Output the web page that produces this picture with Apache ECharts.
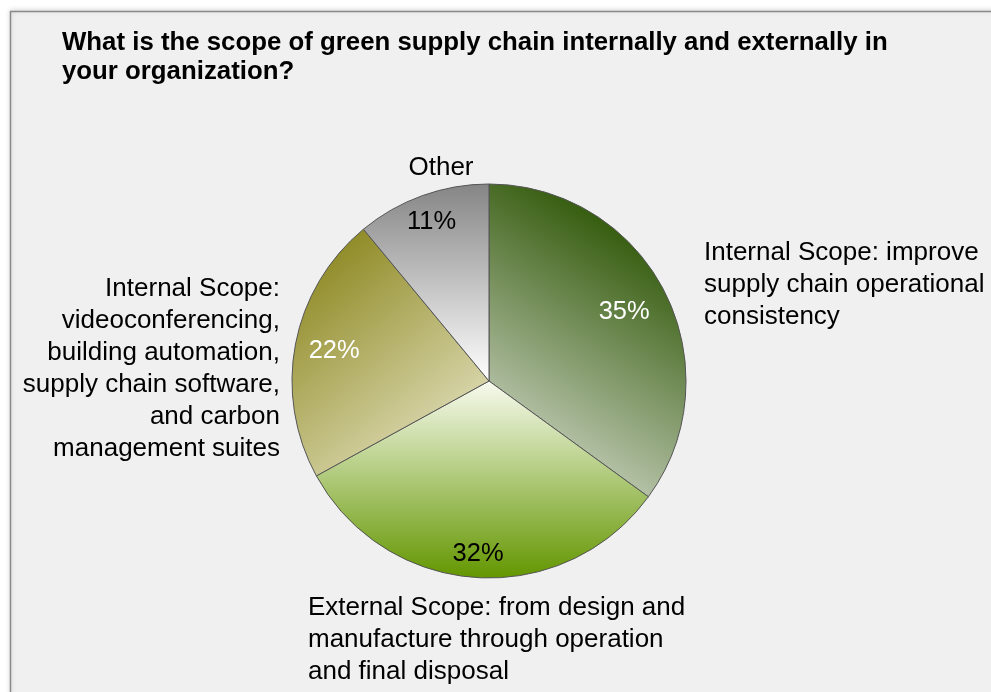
<!DOCTYPE html>
<html>
<head>
<meta charset="utf-8">
<script src="https://cdn.jsdelivr.net/npm/echarts@6/dist/echarts.min.js"></script>
<style>
  html, body { margin: 0; padding: 0; background: #ffffff; }
  #chart { width: 991px; height: 692px; }
</style>
</head>
<body>
<div id="chart"></div>
<script>
// Survey answers: scope of green supply chain
const categories = [
  'Internal Scope: improve\nsupply chain operational\nconsistency',
  'External Scope: from design and\nmanufacture through operation\nand final disposal',
  'Internal Scope:\nvideoconferencing,\nbuilding automation,\nsupply chain software,\nand carbon\nmanagement suites',
  'Other'
];
const shares = [35, 32, 22, 11];
const pctLabelColors = ['#ffffff', '#000000', '#ffffff', '#000000'];

const titleText = 'What is the scope of green supply chain internally and externally in\nyour organization?';

const CX = 489, CY = 381, R = 197;
const FONT = 'Liberation Sans, Arial, Helvetica, sans-serif';

// slice fills (linear gradients across each sector's bounding box)
const grad = (x, y, x2, y2, stops) =>
  new echarts.graphic.LinearGradient(x, y, x2, y2,
    stops.map(([offset, color]) => ({ offset, color })));
const sliceFills = [
  grad(0, 1, 1, 0, [[0, '#e6e9e2'], [0.85, '#2b5402'], [1, '#264d00']]),
  grad(0, 0, 0, 1, [[0, '#f8fbef'], [1, '#639600']]),
  grad(0, 0, 1, 1, [[0, '#817c0c'], [1, '#f0eed6']]),
  grad(0, 0, 0, 1, [[0, '#858585'], [1, '#ffffff']])
];

// radial position of each percent label, as a fraction of the radius
const pctRadius = [0.77, 0.88, 0.80, 0.86];
// category label anchors relative to the pie centre
const namePlace = [
  { dx: 215, dy: -96, align: 'left' },
  { dx: -181, dy: 259, align: 'left' },
  { dx: -209, dy: -12, align: 'right' },
  { dx: -48, dy: -213, align: 'center' }
];

const total = shares.reduce((a, b) => a + b, 0);
function midAngle(i) {
  let before = 0;
  for (let k = 0; k < i; k++) before += shares[k];
  return ((before + shares[i] / 2) / total) * Math.PI * 2;
}

const data = shares.map((v, i) => ({
  name: categories[i],
  value: v,
  itemStyle: { color: sliceFills[i] },
  label: { color: pctLabelColors[i] }
}));

const chart = echarts.init(document.getElementById('chart'), null, { renderer: 'canvas' });

chart.setOption({
  backgroundColor: '#ffffff',
  animation: false,
  graphic: [{
    type: 'rect',
    z: -10,
    shape: { x: 10.5, y: 11.5, width: 1000, height: 700 },
    style: {
      fill: '#f0f0f0',
      stroke: '#8a8a8a',
      lineWidth: 1.5,
      shadowBlur: 5,
      shadowColor: 'rgba(0,0,0,0.18)',
      shadowOffsetY: -1
    }
  }],
  title: {
    text: titleText,
    left: 62,
    top: 28,
    padding: 0,
    textStyle: {
      fontFamily: FONT,
      fontWeight: 'bold',
      fontSize: 25.8,
      lineHeight: 29.5,
      color: '#000000'
    }
  },
  series: [
    {
      type: 'pie',
      center: [CX, CY],
      radius: [0, R],
      startAngle: 90,
      clockwise: true,
      silent: true,
      data: data,
      itemStyle: { borderColor: '#555555', borderWidth: 1 },
      label: {
        show: true,
        position: 'inside',
        formatter: p => p.value + '%',
        fontFamily: FONT,
        fontSize: 25.5
      },
      labelLine: { show: false },
      labelLayout: p => {
        const a = midAngle(p.dataIndex);
        const d = pctRadius[p.dataIndex] * R;
        return {
          x: CX + d * Math.sin(a),
          y: CY - d * Math.cos(a),
          align: 'center',
          verticalAlign: 'middle'
        };
      }
    },
    {
      type: 'pie',
      center: [CX, CY],
      radius: [0, R],
      startAngle: 90,
      clockwise: true,
      silent: true,
      z: 3,
      data: shares.map((v, i) => ({ name: categories[i], value: v })),
      itemStyle: { color: 'rgba(0,0,0,0)', borderWidth: 0 },
      label: {
        show: true,
        position: 'outside',
        alignTo: 'none',
        overflow: 'none',
        formatter: p => p.name,
        fontFamily: FONT,
        fontSize: 26,
        lineHeight: 32,
        color: '#000000'
      },
      labelLine: { show: false },
      labelLayout: p => {
        const s = namePlace[p.dataIndex];
        return {
          x: CX + s.dx,
          y: CY + s.dy,
          align: s.align,
          verticalAlign: 'middle'
        };
      }
    }
  ]
});
</script>
</body>
</html>
